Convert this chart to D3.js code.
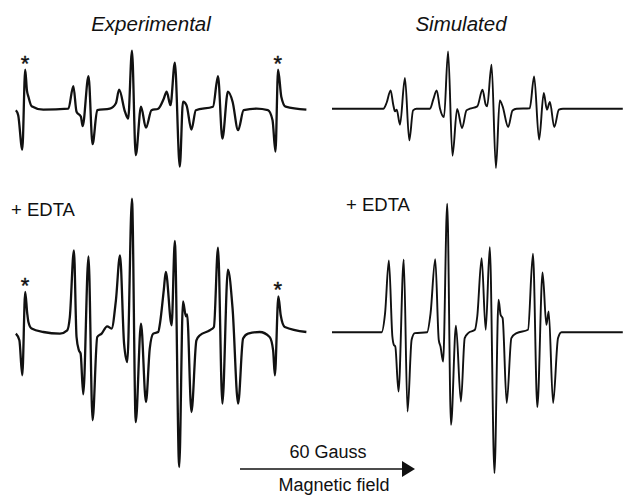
<!DOCTYPE html>
<html>
<head>
<meta charset="utf-8">
<script src="https://cdn.jsdelivr.net/npm/d3@7"></script>
<style>
  html, body { margin: 0; padding: 0; background: #fff; }
  svg { display: block; font-family: "Liberation Sans", Arial, Helvetica, sans-serif; }
</style>
</head>
<body>
<svg id="chart" width="623" height="496"></svg>
<script>
// field in Gauss (relative to the sweep start), intensity in arbitrary units
const expNative = [[0.3,-1.5],[1.1,-6.5],[2.5,-41],[3.5,39],[4.1,18],[4.6,12],[5.7,2.5],[9.7,-1],[18.3,0],[20.0,22.5],[21.1,-3],[22.6,-8],[23.2,-17.5],[25.2,32.5],[26.6,-35.5],[28.2,-1.5],[32.5,0],[34.6,5.5],[35.7,19],[37.7,-3],[38.8,-10],[40.1,58],[41.4,-46.5],[43.2,2],[44.9,-19],[46.8,-1.5],[49.1,0],[51.0,10],[52.0,17],[53.3,3.5],[54.8,46],[56.5,-58],[57.6,7],[58.8,3.5],[60.5,-21],[62.0,-1.5],[67.9,2],[69.6,32.5],[71.1,-30],[73.0,17],[74.6,7],[76.5,-21.5],[78.4,-1.5],[82.8,0],[86.7,-1.5],[88.3,-11.5],[89.3,-43],[90.2,39],[91.3,12],[92.8,2],[99.9,-1]];

const simNative = [[0,0],[17.6,0],[18.7,5.7],[20.1,18.3],[21.0,4],[21.6,-2.7],[22.2,-1],[23.3,-16],[25.0,30.7],[26.5,-31.7],[27.8,-1.7],[29.0,0],[33.6,0],[34.7,9],[35.9,18.3],[37.0,0.5],[38.4,-8.3],[39.8,57.3],[41.3,-47],[42.9,-0.3],[44.6,-19.3],[46.1,-1.7],[47.3,0],[49.8,2.3],[51.6,19],[52.7,4],[53.2,2.3],[54.7,44],[56.2,-59.3],[57.5,8.3],[58.5,2.3],[60.4,-18.3],[61.9,-1.7],[63.3,0],[67.8,0.5],[69.3,32.3],[71.0,-31],[72.6,15.7],[73.7,-1],[74.7,6.7],[76.2,-18.3],[77.8,-1],[79.2,0],[99.7,0]];

const expEdta = [[0.3,-1.3],[1.5,-8],[2.5,-43],[3.5,40.3],[4.2,18.7],[4.6,10.3],[5.7,3.7],[9.7,0.3],[15.4,-1.3],[17.9,2],[18.8,15.3],[20.2,82],[21.1,-4.7],[21.9,-18],[22.5,-21.3],[23.4,-62],[25.2,76],[26.6,-88],[28.2,-4.7],[29.7,-1.3],[31.6,6],[33.1,3.7],[34.6,32],[36.0,77],[37.4,-11.3],[38.5,-29.7],[40.1,133.7],[41.4,-89.7],[43.2,8.7],[44.9,-69.7],[46.2,-16.3],[47.4,-1.3],[49.1,0.3],[49.7,8.7],[51.0,42],[51.7,60.3],[53.7,7],[54.8,91.3],[56.3,-134.7],[57.6,31],[58.6,16],[59.0,18],[60.5,-79.7],[62.2,-8],[63.4,-3],[66.8,2],[68.2,5.3],[69.6,84.7],[71.1,-71.3],[73.0,62.7],[74.6,23.7],[76.5,-71.3],[78.2,-6.3],[79.9,-1.3],[83.9,0.3],[87.3,-4.7],[88.5,-18],[89.1,-43],[90.3,36],[91.1,17],[92.5,5.3],[99.9,0.3]];

const simEdta = [[0,0],[17.0,0],[18.2,19.2],[19.5,71.8],[20.7,-4.2],[21.2,-12.5],[21.7,-14.2],[22.8,-59.2],[24.6,72.5],[25.9,-79.2],[27.3,-7.5],[28.4,-0.8],[32.6,0],[33.8,19.2],[35.4,73.2],[36.6,-7.5],[37.2,-14.2],[38.1,-29.2],[39.5,128.5],[40.8,-92.5],[42.5,6.5],[44.2,-69.2],[45.5,-5.8],[46.7,-0.8],[49.0,2.5],[49.8,15.8],[51.3,74.2],[52.7,2.5],[54.1,85.2],[55.7,-140.8],[57.1,32.5],[57.8,17.5],[58.5,14.2],[59.9,-70.8],[61.5,-5.8],[63.3,-0.8],[67.2,2.5],[68.9,78.5],[70.4,-74.8],[72.2,59.8],[73.5,7.5],[74.3,20.8],[75.8,-70.8],[77.5,-5.8],[78.7,0],[99.7,0]];

// impurity lines marked with an asterisk (field, Gauss)
const starFields = [3.5, 90.2];

const columnTitles = ['Experimental', 'Simulated'];
const rowLabel = '+ EDTA';
const scaleGauss = 60;
const scaleLabel = scaleGauss + ' Gauss';
const fieldLabel = 'Magnetic field';

const svg = d3.select('#chart');

const gaussPx = 175 / 60;
let xLeft = d3.scaleLinear().domain([0, 100]).range([15, 15 + 100 * gaussPx]);
let xRight = d3.scaleLinear().domain([0, 100]).range([332, 332 + 100 * gaussPx]);
let yTop = d3.scaleLinear().domain([-60, 60]).range([168.7, 48.7]);
let yBottom = d3.scaleLinear().domain([-140, 140]).range([472.3, 192.3]);

const panels = [
	{data: expNative, x: xLeft, y: yTop, width: 2.3, stars: true},
	{data: simNative, x: xRight, y: yTop, width: 1.9, stars: false},
	{data: expEdta, x: xLeft, y: yBottom, width: 2.3, stars: true},
	{data: simEdta, x: xRight, y: yBottom, width: 1.9, stars: false}
];

panels.forEach(p => {
	let line = d3.line()
		.x(d => p.x(d[0]))
		.y(d => p.y(d[1]))
		.curve(d3.curveMonotoneX);

	svg.append('path')
		.datum(p.data)
		.attr('fill', 'none')
		.attr('stroke', '#111')
		.attr('stroke-width', p.width)
		.attr('stroke-linejoin', 'round')
		.attr('d', line);

	if (p.stars) {
		svg.selectAll(null)
			.data(starFields)
			.enter()
			.append('text')
			.attr('x', d => p.x(d) - 0.3)
			.attr('y', d => {
				// nearest traced point to the marked line
				let peak = d3.least(p.data, v => Math.abs(v[0] - d));
				return p.y(peak[1]) + 1;
			})
			.attr('text-anchor', 'middle')
			.attr('font-size', 22)
			.attr('stroke', '#111')
			.attr('stroke-width', 0.4)
			.attr('fill', '#111')
			.text('*');
	}
});

// titles
svg.selectAll('.title')
	.data(columnTitles)
	.enter()
	.append('text')
	.attr('class', 'title')
	.attr('x', (d, i) => i === 0 ? 151 : 461)
	.attr('y', 31)
	.attr('text-anchor', 'middle')
	.attr('font-style', 'italic')
	.attr('font-size', 20.5)
	.attr('fill', '#111')
	.text(d => d);

svg.append('text')
	.attr('x', 11).attr('y', 216)
	.attr('font-size', 18.5)
	.attr('fill', '#111')
	.text(rowLabel);

svg.append('text')
	.attr('x', 346).attr('y', 210.5)
	.attr('font-size', 18.5)
	.attr('fill', '#111')
	.text(rowLabel);

// field arrow
svg.append('line')
	.attr('x1', 240).attr('x2', 404)
	.attr('y1', 469).attr('y2', 469)
	.attr('stroke', '#111')
	.attr('stroke-width', 1.6);

svg.append('path')
	.attr('d', 'M402,461 L415,469 L402,477 Z')
	.attr('fill', '#111');

svg.append('text')
	.attr('x', 328).attr('y', 458)
	.attr('text-anchor', 'middle')
	.attr('font-size', 18)
	.attr('fill', '#111')
	.text(scaleLabel);

svg.append('text')
	.attr('x', 334).attr('y', 491)
	.attr('text-anchor', 'middle')
	.attr('font-size', 18)
	.attr('fill', '#111')
	.text(fieldLabel);
</script>
</body>
</html>
